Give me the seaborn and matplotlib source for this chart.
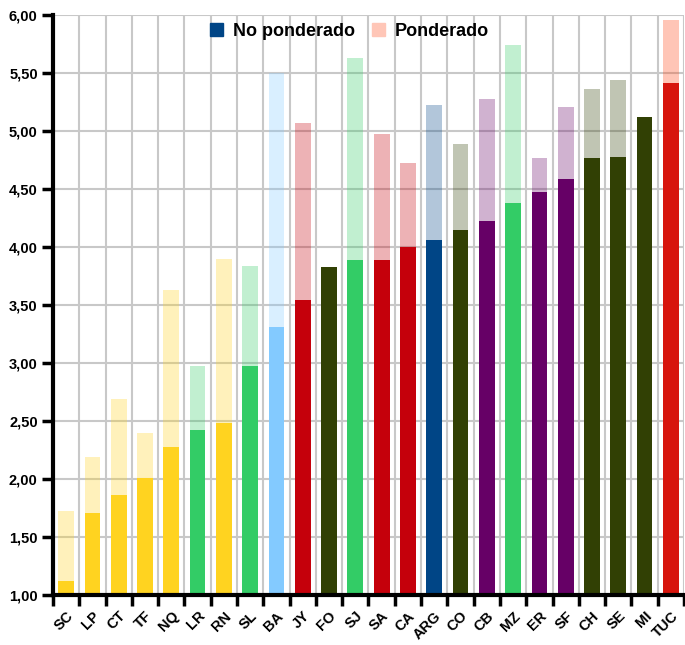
import numpy as np
import pandas as pd
import matplotlib.pyplot as plt
import seaborn as sns
from matplotlib.patches import Patch
from matplotlib.ticker import FuncFormatter, MultipleLocator

# 数据
categorias = ['SC', 'LP', 'CT', 'TF', 'NQ', 'LR', 'RN', 'SL', 'BA', 'JY', 'FO', 'SJ',
              'SA', 'CA', 'ARG', 'CO', 'CB', 'MZ', 'ER', 'SF', 'CH', 'SE', 'MI', 'TUC']
no_ponderado = [1.12, 1.71, 1.86, 2.01, 2.28, 2.42, 2.48, 2.97, 3.31, 3.54, 3.83, 3.89,
                3.89, 4.00, 4.06, 4.15, 4.22, 4.38, 4.47, 4.59, 4.77, 4.78, 5.12, 5.41]
ponderado = [1.72, 2.19, 2.69, 2.40, 3.63, 2.97, 3.90, 3.84, 5.50, 5.07, np.nan, 5.63,
             4.97, 4.72, 5.22, 4.89, 5.28, 5.74, 4.77, 5.21, 5.36, 5.44, np.nan, 5.96]

amarillo, verde, celeste, rojo = '#FFD320', '#33CC66', '#83CAFF', '#C5000B'
oliva, azul, violeta = '#314004', '#004586', '#660066'
colores = [amarillo, amarillo, amarillo, amarillo, amarillo, verde, amarillo, verde,
           celeste, rojo, oliva, verde, rojo, rojo, azul, oliva, violeta, verde,
           violeta, violeta, oliva, oliva, oliva, '#D7150D']
colores_pond = colores[:-1] + ['#FF420E']

df = pd.DataFrame({'prov': categorias, 'np': no_ponderado, 'p': ponderado})

plt.rcParams['font.family'] = ['Liberation Sans', 'DejaVu Sans']
plt.rcParams['font.weight'] = 'bold'

fig = plt.figure(figsize=(6.85, 6.45), dpi=100)
ax = fig.add_axes([53 / 685, 50 / 645, 631 / 685, 580 / 645])

sns.barplot(data=df, x='prov', y='p', hue='prov', order=categorias, hue_order=categorias,
            palette=dict(zip(categorias, colores_pond)), legend=False, width=0.6,
            saturation=1, alpha=0.3, ax=ax, zorder=2)
sns.barplot(data=df, x='prov', y='np', hue='prov', order=categorias, hue_order=categorias,
            palette=dict(zip(categorias, colores)), legend=False, width=0.6,
            saturation=1, ax=ax, zorder=3)

ax.set_xlim(-0.5, len(categorias) - 0.5)
ax.set_ylim(1, 6)
ax.set_xlabel('')
ax.set_ylabel('')

# 刻度与网格
ax.yaxis.set_major_locator(MultipleLocator(0.5))
ax.yaxis.set_major_formatter(FuncFormatter(lambda v, p: f'{v:.2f}'.replace('.', ',')))
ax.set_xticks(np.arange(len(categorias) + 1) - 0.5, minor=True)
ax.set_xticks(np.arange(len(categorias)))
ax.set_xticklabels(categorias, rotation=45, ha='right', rotation_mode='anchor')
ax.tick_params(axis='x', which='major', length=0, pad=10, labelsize=10.5)
ax.tick_params(axis='x', which='minor', length=8, width=2.5, color='black')
ax.tick_params(axis='y', length=8, width=2.5, labelsize=10.5, pad=3)

ax.set_axisbelow(True)
ax.grid(axis='y', which='major', color='#c8c8c8', linewidth=1.5)
ax.grid(axis='x', which='minor', color='#c8c8c8', linewidth=1.5)
ax.grid(axis='x', which='major', visible=False)

for s in ['top', 'right']:
    ax.spines[s].set_visible(False)
for s in ['left', 'bottom']:
    ax.spines[s].set_linewidth(3)
    ax.spines[s].set_color('black')
    ax.spines[s].set_zorder(5)

handles = [Patch(color=azul, label='No ponderado'),
           Patch(color='#FFC6B7', label='Ponderado')]
ax.legend(handles=handles, loc='upper center', bbox_to_anchor=(0.47, 1.015), ncol=2,
          frameon=False, handlelength=0.75, handleheight=0.75,
          handletextpad=0.55, columnspacing=0.9, prop={'weight': 'bold', 'size': 13})

fig.savefig('out.png', dpi=100)
